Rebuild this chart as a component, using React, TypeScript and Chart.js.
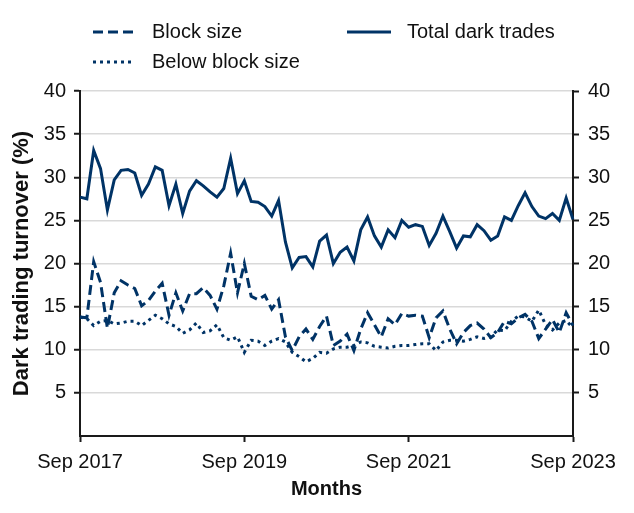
import React, { useEffect, useRef } from "react";
import { Chart, registerables } from "chart.js";

Chart.register(...registerables);

const START_YEAR = 2017;
const START_MONTH = 8; // September (0-based)
const MONTH_NAMES = ["Jan", "Feb", "Mar", "Apr", "May", "Jun", "Jul", "Aug", "Sep", "Oct", "Nov", "Dec"];
const N_MONTHS = 73;
const months: string[] = [];
for (let i = 0; i < N_MONTHS; i++) {
  const m = (START_MONTH + i) % 12;
  const y = START_YEAR + Math.floor((START_MONTH + i) / 12);
  months.push(`${MONTH_NAMES[m]} ${y}`);
}
const xTickLabels = ["Sep 2017", "Sep 2019", "Sep 2021", "Sep 2023"];

const totalDark = [
  27.7, 27.5, 33.1, 31.0, 26.2, 29.7, 30.8, 30.9, 30.5, 27.9, 29.2, 31.2, 30.8, 26.7, 29.2, 25.8,
  28.4, 29.6, 29.0, 28.3, 27.7, 28.7, 32.2, 28.1, 29.6, 27.2, 27.1, 26.6, 25.5, 27.3, 22.5, 19.5,
  20.7, 20.8, 19.6, 22.6, 23.3, 20.0, 21.3, 21.9, 20.3, 23.9, 25.4, 23.2, 21.9, 23.9, 23.0, 25.0,
  24.2, 24.5, 24.3, 22.1, 23.5, 25.5, 23.7, 21.8, 23.2, 23.1, 24.5, 23.8, 22.7, 23.2, 25.4, 25.0,
  26.7, 28.2, 26.6, 25.5, 25.2, 25.8, 25.0, 27.6, 25.1,
];

const blockSize = [
  13.8, 13.7, 20.2, 17.8, 12.5, 16.6, 18.0, 17.5, 17.1, 15.1, 15.7, 16.8, 17.7, 14.0, 16.6, 14.5,
  16.5, 16.5, 17.2, 16.3, 14.7, 17.4, 21.2, 16.6, 20.0, 16.2, 15.8, 16.3, 14.7, 15.8, 11.5, 9.9,
  11.5, 12.4, 11.2, 12.7, 13.9, 10.5, 11.0, 11.8, 9.9, 12.4, 14.3, 12.9, 11.5, 13.6, 12.9, 14.2,
  13.9, 14.0, 13.9, 11.4, 13.7, 14.5, 12.4, 10.7, 12.0, 12.8, 13.1, 12.4, 11.4, 12.0, 13.3, 13.0,
  13.7, 14.1, 13.3, 11.3, 12.4, 13.5, 12.0, 14.3, 12.8,
];

const belowBlock = [
  13.8, 13.6, 12.8, 13.3, 13.4, 13.0, 13.1, 13.3, 13.3, 12.8, 13.4, 14.0, 13.6, 13.0, 12.7, 11.9,
  12.3, 13.1, 12.0, 12.2, 12.9, 11.4, 11.1, 11.5, 9.7, 11.1, 11.0, 10.5, 11.0, 11.3, 10.9, 9.7,
  9.2, 8.6, 9.0, 9.7, 9.6, 10.1, 10.3, 10.3, 10.5, 10.9, 10.8, 10.4, 10.3, 10.2, 10.4, 10.5,
  10.5, 10.6, 10.7, 10.7, 9.9, 10.9, 11.1, 11.1, 11.0, 11.2, 11.5, 11.3, 11.5, 12.3, 12.2, 13.3,
  13.9, 13.8, 13.3, 14.6, 12.9, 12.3, 13.1, 13.4, 12.5,
];

const COLOR = "#003366";
const AXIS = "#1a1a1a";
const GRID = "#d9d9d9";
const FONT = "'Liberation Sans', Arial, sans-serif";

export default function App() {
  const ref = useRef<HTMLCanvasElement | null>(null);

  useEffect(() => {
    if (!ref.current) return;
    const yTickCb = (v: any) => (Number(v) === 0 ? "" : String(v));
    const chart = new Chart(ref.current, {
      type: "line",
      data: {
        labels: months,
        datasets: [
          {
            label: "Total dark trades",
            data: totalDark,
            borderColor: COLOR,
            borderWidth: 3,
            pointRadius: 0,
            tension: 0,
            yAxisID: "y",
          },
          {
            label: "Block size",
            data: blockSize,
            borderColor: COLOR,
            borderWidth: 3,
            borderDash: [10, 5],
            pointRadius: 0,
            tension: 0,
            yAxisID: "y",
          },
          {
            label: "Below block size",
            data: belowBlock,
            borderColor: COLOR,
            borderWidth: 3,
            borderDash: [3, 4],
            pointRadius: 0,
            tension: 0,
            yAxisID: "y",
          },
        ],
      },
      options: {
        responsive: false,
        animation: false,
        devicePixelRatio: 1,
        layout: { padding: { top: 91, left: 0, right: 0, bottom: 0 } },
        plugins: { legend: { display: false }, tooltip: { enabled: false } },
        scales: {
          x: {
            type: "category",
            offset: false,
            border: { color: AXIS, width: 2 },
            grid: {
              drawOnChartArea: false,
              drawTicks: true,
              tickLength: 6,
              tickWidth: 2,
              tickColor: (ctx: any) => (ctx.index % 24 === 0 ? AXIS : "transparent"),
            },
            ticks: {
              autoSkip: false,
              maxRotation: 0,
              minRotation: 0,
              padding: 8,
              color: "#111",
              font: { family: FONT, size: 20 },
              callback: (_v: any, i: number) =>
                i % 24 === 0 ? xTickLabels[i / 24] : "",
            },
            title: {
              display: true,
              text: "Months",
              color: "#111",
              font: { family: FONT, size: 20, weight: "bold" },
              padding: { top: 0, bottom: 12 },
            },
            afterFit: (s: any) => {
              s.height = 77;
            },
          },
          y: {
            position: "left",
            min: 0,
            max: 40,
            border: { color: AXIS, width: 2 },
            grid: {
              color: (ctx: any) => (ctx.tick && ctx.tick.value === 0 ? "transparent" : GRID),
              lineWidth: 1.5,
              drawTicks: true,
              tickLength: 6,
              tickWidth: 2,
              tickColor: (ctx: any) => (ctx.tick && ctx.tick.value === 0 ? "transparent" : AXIS),
            },
            ticks: {
              stepSize: 5,
              padding: 8,
              color: "#111",
              font: { family: FONT, size: 20 },
              callback: yTickCb,
            },
            title: {
              display: true,
              text: "Dark trading turnover (%)",
              color: "#111",
              font: { family: FONT, size: 22, weight: "bold" },
              padding: { top: 9, bottom: 0 },
            },
            afterFit: (s: any) => {
              s.width = 80;
            },
          },
          y2: {
            position: "right",
            min: 0,
            max: 40,
            border: { color: AXIS, width: 2 },
            grid: {
              drawOnChartArea: false,
              drawTicks: true,
              tickLength: 6,
              tickWidth: 2,
              tickColor: (ctx: any) => (ctx.tick && ctx.tick.value === 0 ? "transparent" : AXIS),
            },
            ticks: {
              stepSize: 5,
              padding: 9,
              color: "#111",
              font: { family: FONT, size: 20 },
              callback: yTickCb,
            },
            afterFit: (s: any) => {
              s.width = 61;
            },
          },
        },
      },
    });
    return () => chart.destroy();
  }, []);

  const legendText: React.CSSProperties = {
    position: "absolute",
    fontFamily: FONT,
    fontSize: 20,
    color: "#111",
    lineHeight: "24px",
    whiteSpace: "nowrap",
  };

  return (
    <div style={{ position: "fixed", left: 0, top: 0, width: 634, height: 513, background: "#fff" }}>
      <canvas ref={ref} width={634} height={513} style={{ display: "block" }} />
      <svg width={634} height={80} style={{ position: "absolute", left: 0, top: 0 }}>
        <line x1={93} y1={32} x2={134} y2={32} stroke={COLOR} strokeWidth={3} strokeDasharray="10 5" />
        <line x1={93} y1={62} x2={134} y2={62} stroke={COLOR} strokeWidth={3} strokeDasharray="3 4" />
        <line x1={347} y1={32} x2={391} y2={32} stroke={COLOR} strokeWidth={3} />
      </svg>
      <div style={{ ...legendText, left: 152, top: 19 }}>Block size</div>
      <div style={{ ...legendText, left: 152, top: 49 }}>Below block size</div>
      <div style={{ ...legendText, left: 407, top: 19 }}>Total dark trades</div>
    </div>
  );
}
